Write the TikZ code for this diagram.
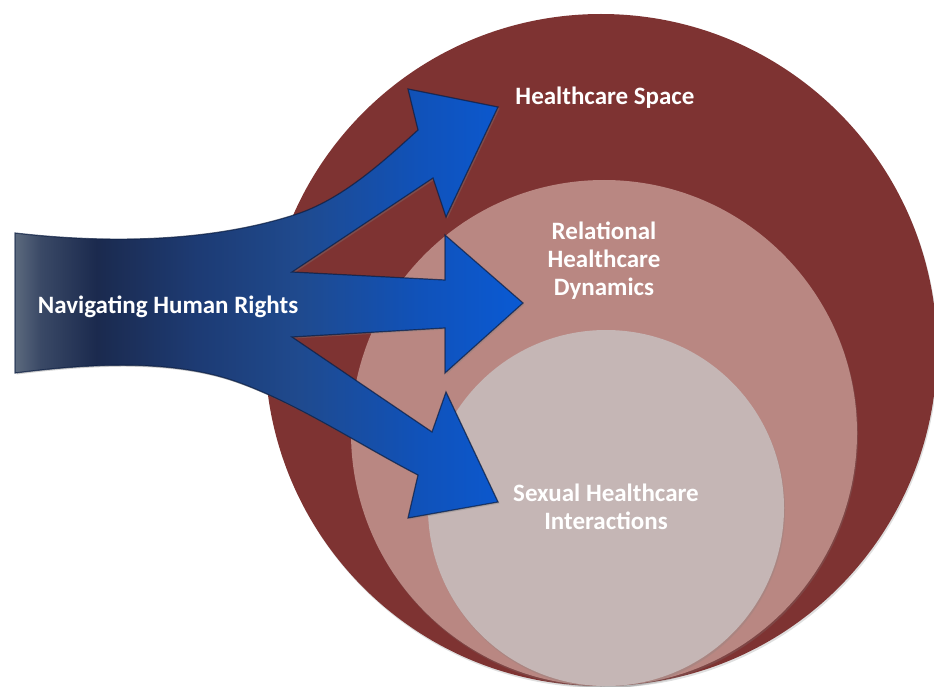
\documentclass[tikz,border=0pt]{standalone}
\usepackage{fontspec}
\setmainfont{Carlito}
\usetikzlibrary{shadows}

\definecolor{outerred}{HTML}{7E3332}
\definecolor{midpink}{HTML}{B98782}
\definecolor{innergray}{HTML}{C5B6B5}
\definecolor{arrowedge}{HTML}{0A1C40}
\definecolor{bandA}{HTML}{5C6A7E}
\definecolor{bandB}{HTML}{3A4966}
\definecolor{bandC}{HTML}{1B2A4E}
\definecolor{bandD}{HTML}{1D3B74}
\definecolor{bandE}{HTML}{1F4A8E}
\definecolor{bandF}{HTML}{1052BA}
\definecolor{bandG}{HTML}{0A5AD4}

% horizontal blend of the arrow band: 25bp = left end, 75bp = arrow tips
\pgfdeclarehorizontalshading{bandshade}{100bp}{%
  color(0bp)=(bandA); color(25bp)=(bandA); color(27.5bp)=(bandB);
  color(33bp)=(bandC); color(43bp)=(bandD); color(53bp)=(bandE);
  color(65bp)=(bandF); color(75bp)=(bandG); color(100bp)=(bandG)}

\begin{document}
\begin{tikzpicture}[x=1pt,y=-1pt,
  ring/.style={drop shadow={opacity=0.25,shadow xshift=1pt,shadow yshift=-2pt}},
  lbl/.style={text=white,align=center,inner sep=0pt,
    font=\bfseries\fontsize{25}{28}\selectfont}]
  \useasboundingbox (0,0) rectangle (934,687);
  \clip (0,0) rectangle (934,687);

  % nested spaces
  \fill[outerred, ring] (601,350) circle (336);
  \fill[midpink, ring] (604,433) circle (253);
  \fill[innergray, ring] (606,508) circle (178);

  % three-headed arrow band
  \shadedraw[shading=bandshade, draw=arrowedge, draw opacity=0.7,
      line width=1.2pt, line join=miter,
      drop shadow={opacity=0.35,shadow xshift=1.5pt,shadow yshift=-1.5pt}]
    (15,233) .. controls (120,245) and (220,240) .. (300,213)
    .. controls (345,197) and (385,160) .. (418,130)
    -- (408,89) -- (498,107) -- (446,217) -- (433,178)
    -- (292,272) -- (445,280) -- (445,235) -- (523,303)
    -- (445,373) -- (445,328) -- (292,337)
    -- (432,432) -- (446,392) -- (498,502) -- (408,518) -- (418,475)
    .. controls (360,445) and (300,405) .. (240,383)
    .. controls (170,357) and (80,365) .. (15,373) -- cycle;

  % labels
  \node[lbl] (rights) at (168,307) {Navigating Human Rights};
  \node[lbl] (space) at (605,98) {Healthcare Space};
  \node[lbl] (relational) at (604,261) {Relational\\Healthcare\\Dynamics};
  \node[lbl] (sexual) at (606,507) {Sexual Healthcare\\Interactions};
\end{tikzpicture}
\end{document}
